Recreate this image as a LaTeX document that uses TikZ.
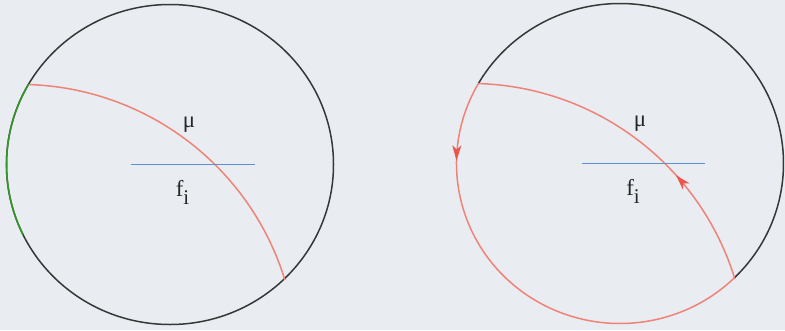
\documentclass[tikz,border=0pt]{standalone}
\usepackage{fontspec}
\setmainfont{Liberation Serif}
\usetikzlibrary{arrows.meta,decorations.markings}
\definecolor{bgc}{RGB}{233,237,241}
\definecolor{circ}{RGB}{55,55,55}
\definecolor{redc}{RGB}{240,130,120}
\definecolor{arrc}{RGB}{235,85,75}
\definecolor{bluec}{RGB}{95,145,210}
\definecolor{greenc}{RGB}{50,150,40}
\tikzset{
  rim/.style={draw=circ, line width=1.5bp},
  redline/.style={draw=redc, line width=1.5bp},
  blueline/.style={draw=bluec, line width=1.5bp},
  greenline/.style={draw=greenc, line width=1.6bp},
  lbl/.style={font=\fontsize{23}{26}\selectfont, inner sep=0pt, text=black!85},
  midarrow/.style={postaction={decorate, decoration={markings,
      mark=at position #1 with {\arrow[arrc]{Stealth[length=15bp,width=9bp,inset=4bp]}}}}}
}
\newcommand{\fisub}{f\raisebox{-8bp}{\fontsize{21}{24}\selectfont i}}
\begin{document}
\begin{tikzpicture}[x=1bp,y=-1bp]
\useasboundingbox (0,0) rectangle (785,330);
\fill[bgc] (0,0) rectangle (785,330);
% left picture
\begin{scope}[shift={(170,164.5)}]
  \draw[rim] (0,0) ellipse [x radius=163.5, y radius=160];
  \draw[greenline] (154:163.5 and 160) arc[start angle=154, end angle=210.1, x radius=163.5, y radius=160];
  \draw[redline] (-150,197.1) ++(-88.14:277.2) arc[start angle=-88.14, end angle=-17.11, radius=277.2];
  \coordinate (bl1) at (-39,0);
  \coordinate (br1) at (85,0);
  \draw[blueline] (bl1) -- (br1);
  \node[lbl] (mu1) at (19,-40) {μ};
  \node[lbl] (fi1) at (12.5,28) {\fisub};
\end{scope}
% right picture
\begin{scope}[shift={(620,163.5)}]
  \draw[rim] (45.8:163.5 and 160) arc[start angle=45.8, end angle=-149.9, x radius=163.5, y radius=160];
  \draw[redline, midarrow=0.175] (210.1:163.5 and 160) arc[start angle=210.1, end angle=45.8, x radius=163.5, y radius=160];
  \draw[redline, midarrow=0.35] (-150,197.1) ++(-17.11:277.2) arc[start angle=-17.11, end angle=-88.14, radius=277.2];
  \coordinate (bl2) at (-38,0);
  \coordinate (br2) at (85,0);
  \draw[blueline] (bl2) -- (br2);
  \node[lbl] (mu2) at (20,-40) {μ};
  \node[lbl] (fi2) at (13,28) {\fisub};
\end{scope}
\end{tikzpicture}
\end{document}
